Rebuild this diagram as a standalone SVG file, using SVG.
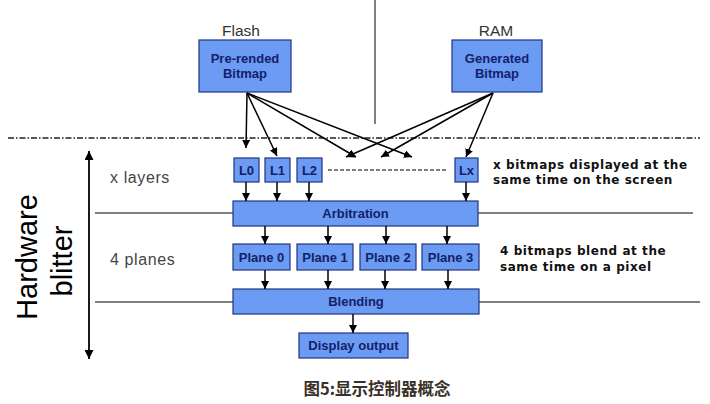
<svg xmlns="http://www.w3.org/2000/svg" width="710" height="404" viewBox="0 0 710 404">
<defs>
<marker id="ah" viewBox="0 0 10 10" refX="10" refY="5" markerWidth="8" markerHeight="8" markerUnits="userSpaceOnUse" orient="auto">
<path d="M0,0 L10,5 L0,10 z" fill="#000"/>
</marker>
<marker id="ah2" viewBox="0 0 10 10" refX="10" refY="5" markerWidth="9" markerHeight="9" markerUnits="userSpaceOnUse" orient="auto-start-reverse">
<path d="M0,0 L10,5 L0,10 z" fill="#000"/>
</marker>
<style>
.box{fill:#6b9bf2;stroke:#1f3580;stroke-width:1.2}
.bt{font-family:"Liberation Sans",Arial,sans-serif;font-weight:bold;font-size:13px;fill:#14206a;text-anchor:middle}
.lbl{font-family:"Liberation Sans",Arial,sans-serif;font-size:15.5px;fill:#333;}
.side{font-family:"Liberation Sans",Arial,sans-serif;font-size:16px;fill:#444;letter-spacing:0.6px}
.note{font-family:"DejaVu Sans",Verdana,sans-serif;font-weight:bold;font-size:12px;fill:#111;letter-spacing:0.55px}
.big{font-family:"Liberation Sans",Arial,sans-serif;font-size:29px;fill:#000;text-anchor:middle}
.ca{stroke:#000;stroke-width:1.5;fill:none;marker-end:url(#ah)}
.thin{stroke:#000;stroke-width:1;fill:none}
</style>
</defs>
<g id="frame">
<line class="thin" x1="375" y1="0" x2="375" y2="124" stroke-width="1.5"/>
<line x1="8" y1="138" x2="700" y2="138" stroke="#222" stroke-width="1.5" stroke-dasharray="6 2 1.5 2"/>
<line class="thin" x1="95" y1="213" x2="233" y2="213"/>
<line class="thin" x1="478" y1="213" x2="693" y2="213"/>
<line class="thin" x1="95" y1="302" x2="233" y2="302"/>
<line class="thin" x1="479" y1="302" x2="700" y2="302"/>
<line x1="89" y1="151" x2="89" y2="359" stroke="#000" stroke-width="1.8" marker-start="url(#ah2)" marker-end="url(#ah2)"/>
<line x1="328" y1="170" x2="448" y2="170" stroke="#000" stroke-width="1" stroke-dasharray="4 2"/>
<text class="big" transform="translate(37,257) rotate(-90)">Hardware</text>
<text class="big" transform="translate(72,261) rotate(-90)">blitter</text>
<text class="side" x="110" y="183">x layers</text>
<text class="side" x="110" y="265">4 planes</text>
<text class="note" x="493" y="169">x bitmaps displayed at the</text>
<text class="note" x="493" y="184">same time on the screen</text>
<text class="note" x="500" y="255">4 bitmaps blend at the</text>
<text class="note" x="500" y="271">same time on a pixel</text>
<text x="377" y="395" font-family="'Noto Sans CJK SC',sans-serif" font-weight="bold" font-size="16.5px" fill="#3a3028" text-anchor="middle">图5:显示控制器概念</text>
</g>
<g id="flash">
<text class="lbl" x="241" y="36" text-anchor="middle">Flash</text>
<rect class="box" x="199" y="40" width="92" height="52"/>
<text class="bt" x="245" y="63">Pre-rended</text>
<text class="bt" x="245" y="78">Bitmap</text>
</g>
<g id="ram">
<text class="lbl" x="496" y="36" text-anchor="middle">RAM</text>
<rect class="box" x="452" y="40" width="90" height="52"/>
<text class="bt" x="497" y="63">Generated</text>
<text class="bt" x="497" y="78">Bitmap</text>
</g>
<g id="l0"><rect class="box" x="234" y="158" width="25" height="24"/><text class="bt" x="246.5" y="175">L0</text></g>
<g id="l1"><rect class="box" x="265" y="158" width="25" height="24"/><text class="bt" x="277.5" y="175">L1</text></g>
<g id="l2"><rect class="box" x="297" y="158" width="25" height="24"/><text class="bt" x="309.5" y="175">L2</text></g>
<g id="lx"><rect class="box" x="455" y="158" width="23" height="24"/><text class="bt" x="466.5" y="175">Lx</text></g>
<g id="arbitration"><rect class="box" x="233" y="201" width="245" height="25"/><text class="bt" x="355.5" y="218">Arbitration</text></g>
<g id="plane0"><rect class="box" x="233" y="244" width="57" height="26"/><text class="bt" x="261.5" y="262">Plane 0</text></g>
<g id="plane1"><rect class="box" x="297" y="244" width="56" height="26"/><text class="bt" x="325" y="262">Plane 1</text></g>
<g id="plane2"><rect class="box" x="360" y="244" width="56" height="26"/><text class="bt" x="388" y="262">Plane 2</text></g>
<g id="plane3"><rect class="box" x="422" y="244" width="57" height="26"/><text class="bt" x="450.5" y="262">Plane 3</text></g>
<g id="blending"><rect class="box" x="233" y="289" width="246" height="25"/><text class="bt" x="356" y="306">Blending</text></g>
<g id="display"><rect class="box" x="299" y="333" width="109" height="25"/><text class="bt" x="353.5" y="350">Display output</text></g>
<g id="connectors">
<line class="ca" x1="247" y1="93" x2="246" y2="148" stroke-width="2.2"/>
<line class="ca" x1="247" y1="93" x2="277" y2="156"/>
<line class="ca" x1="247" y1="93" x2="356" y2="157"/>
<line class="ca" x1="247" y1="93" x2="412" y2="157"/>
<line class="ca" x1="493" y1="93" x2="466" y2="157"/>
<line class="ca" x1="493" y1="93" x2="346" y2="157"/>
<line class="ca" x1="493" y1="93" x2="381" y2="157"/>
<line class="ca" x1="246" y1="182" x2="246" y2="201"/>
<line class="ca" x1="277" y1="182" x2="277" y2="201"/>
<line class="ca" x1="309" y1="182" x2="309" y2="201"/>
<line class="ca" x1="466" y1="182" x2="466" y2="201"/>
<line class="ca" x1="265" y1="226" x2="265" y2="244"/>
<line class="ca" x1="328" y1="226" x2="328" y2="244"/>
<line class="ca" x1="386" y1="226" x2="386" y2="244"/>
<line class="ca" x1="447" y1="226" x2="447" y2="244"/>
<line class="ca" x1="265" y1="270" x2="265" y2="289"/>
<line class="ca" x1="328" y1="270" x2="328" y2="289"/>
<line class="ca" x1="385" y1="270" x2="385" y2="289"/>
<line class="ca" x1="448" y1="270" x2="448" y2="289"/>
<line class="ca" x1="353" y1="314" x2="353" y2="333"/>
</g>
</svg>
